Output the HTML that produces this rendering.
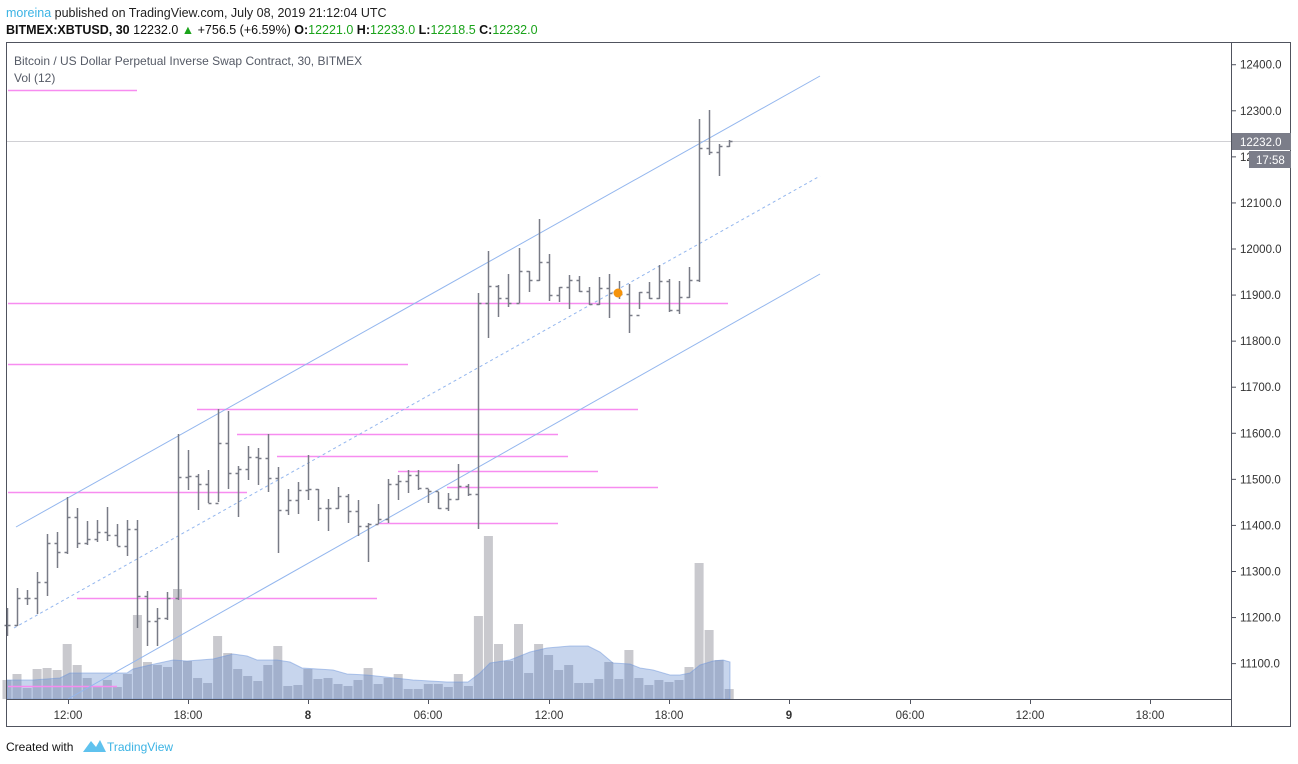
<!DOCTYPE html>
<html><head><meta charset="utf-8"><style>
html,body{margin:0;padding:0;background:#fff;width:1298px;height:764px;overflow:hidden}
svg{display:block}
text{font-family:"Liberation Sans",sans-serif}
</style></head><body>
<svg id="s" width="1298" height="764" xmlns="http://www.w3.org/2000/svg">
<rect x="0" y="0" width="1298" height="764" fill="#fff"/>
<text x="6" y="17" font-size="12.5"><tspan fill="#3bb3e4">moreina</tspan><tspan fill="#222"> published on TradingView.com, July 08, 2019 21:12:04 UTC</tspan></text>
<text x="6" y="34" font-size="12.5" fill="#111"><tspan font-weight="bold">BITMEX:XBTUSD, 30</tspan> 12232.0 <tspan fill="#1aa31a">▲</tspan> +756.5 (+6.59%) <tspan font-weight="bold">O:</tspan><tspan fill="#1aa31a">12221.0</tspan> <tspan font-weight="bold">H:</tspan><tspan fill="#1aa31a">12233.0</tspan> <tspan font-weight="bold">L:</tspan><tspan fill="#1aa31a">12218.5</tspan> <tspan font-weight="bold">C:</tspan><tspan fill="#1aa31a">12232.0</tspan></text>
<g id="plot"></g>
<text x="14" y="65" font-size="12" fill="#555a66">Bitcoin / US Dollar Perpetual Inverse Swap Contract, 30, BITMEX</text>
<text x="14" y="82" font-size="12" fill="#555a66">Vol (12)</text>
<rect x="6.5" y="42.5" width="1284" height="684" fill="none" stroke="#50535e" stroke-width="1"/>
<line x1="1231.5" y1="42" x2="1231.5" y2="727" stroke="#50535e"/>
<line x1="6" y1="699.5" x2="1231" y2="699.5" stroke="#50535e"/>
<g id="yax" font-size="11.5" fill="#333"></g>
<g id="xax" font-size="11.5" fill="#333"></g>
<rect x="1232" y="133" width="59" height="17" fill="#7b7d89"/>
<text x="1240" y="146" font-size="11.5" fill="#fff">12232.0</text>
<text x="1240" y="161" font-size="11.5" fill="#333">12</text>
<rect x="1249" y="151" width="42" height="17" fill="#7b7d89"/>
<text x="1256" y="164" font-size="11.5" fill="#fff">17:58</text>
<text x="6" y="751" font-size="12" fill="#111">Created with</text>
<path d="M83 752 L91 741 L96 747 L100 740 L106 752 Z" fill="#5fc2ee"/>
<text x="107" y="751" font-size="12" fill="#3bb3e4">TradingView</text>
</svg>
<script>
var NS="http://www.w3.org/2000/svg",P=document.getElementById('plot');
function el(t,a,par){var e=document.createElementNS(NS,t);for(var k in a)e.setAttribute(k,a[k]);(par||P).appendChild(e);return e;}
// volume
var vol=[680,674,688,669,668,670,644,665,678,686,680,687,674,615,662,665,667,589,661,678,683,636,653,669,676,681,665,646,686,685,669,679,678,684,686,680,668,684,678,674,689,689,684,684,687,674,686,616,536,644,661,624,673,644,655,670,665,683,683,679,662,679,650,678,685,680,682,680,667,563,630,660,689];
function X(i){return 7+10.03*i;}
vol.forEach(function(v,i){el('rect',{x:(X(i)-4.5).toFixed(1),y:v,width:9,height:699-v,fill:'#c9c9ce'});});
var ma=[[7,680],[33,680],[60,678],[70,673],[127,673],[133,669],[150,665],[173,660],[187,661],[213,659],[233,654],[247,656],[257,660],[277,660],[290,662],[302,668],[333,670],[347,674],[367,675],[413,680],[447,682],[468,682],[480,673],[490,663],[510,660],[530,652],[547,648],[570,646],[588,646],[600,652],[613,663],[630,664],[640,668],[653,670],[670,675],[680,675],[690,673],[700,665],[713,661],[723,660],[730,662]];
var d='M7 699 '+ma.map(function(p){return 'L'+p[0]+' '+p[1];}).join(' ')+' L730 699 Z';
el('path',{d:d,fill:'rgba(80,125,200,0.32)',stroke:'rgba(110,150,220,0.5)','stroke-width':1});
// grid line current price
el('line',{x1:6,y1:141.5,x2:1231,y2:141.5,stroke:'#d0d0d4'});
// pink lines
[[90,8,137],[303,8,728],[364,8,408],[409,197,638],[434,237,558],[456,277,568],[471,398,598],[487,447,658],[492,8,247],[523,378,558],[598,77,377],[686,8,117]].forEach(function(l){el('line',{x1:l[1],y1:l[0]+0.5,x2:l[2],y2:l[0]+0.5,stroke:'#f78cf0','stroke-width':1.6});});
// channel
el('line',{x1:16,y1:527,x2:820,y2:76,stroke:'#93b6ee','stroke-width':1});
el('line',{x1:14,y1:628,x2:820,y2:176,stroke:'#93b6ee','stroke-width':1,'stroke-dasharray':'3,3'});
el('line',{x1:68,y1:699,x2:820,y2:274,stroke:'#93b6ee','stroke-width':1});
// bars [high,low,close]
var B=[[608,636,625],[588,626,598],[590,605,598],[572,614,582],[534,596,543],[532,568,552],[497,554,517],[508,548,543],[521,545,539],[520,542,532],[507,541,535],[524,546,546],[520,556,529],[520,628,596],[591,646,621],[608,646,618],[592,620,598],[434,600,477],[450,490,476],[474,510,484],[470,503,503],[409,502,443],[411,489,473],[466,517,469],[446,480,457],[448,485,458],[434,492,478],[467,553,510],[489,515,500],[482,514,490],[455,500,489],[489,521,508],[499,531,508],[487,509,496],[494,523,511],[500,536,526],[523,562,524],[504,524,519],[479,523,484],[475,500,481],[470,493,475],[470,490,488],[489,503,491],[492,509,508],[493,511,499],[464,500,486],[484,496,494],[293,529,303],[251,338,286],[285,317,298],[274,307,303],[248,303,271],[271,292,280],[219,281,262],[254,301,295],[287,302,287],[275,309,280],[276,292,291],[287,305,304],[277,305,288],[274,318,293],[281,299,294],[284,333,315],[292,309,292],[282,299,298],[265,299,281],[279,312,310],[281,314,297],[267,298,280],[119,282,148],[110,155,152],[144,176,146],[140,147,141]];
var prev=B[0][2];
B.forEach(function(b,i){var x=Math.round(X(i))+0.5;
el('line',{x1:x,y1:b[0],x2:x,y2:b[1],stroke:'#787b86','stroke-width':1.5});
el('line',{x1:x-3,y1:prev+0.5,x2:x,y2:prev+0.5,stroke:'#787b86','stroke-width':1.5});
el('line',{x1:x,y1:b[2]+0.5,x2:x+3,y2:b[2]+0.5,stroke:'#787b86','stroke-width':1.5});
prev=b[2];});
el('circle',{cx:618,cy:293,r:4.5,fill:'#f5930b'});
// y axis
var Y=document.getElementById('yax');
for(var p=11100;p<=12400;p+=100){var y=249-(p-12000)*0.4607;
el('line',{x1:1231,y1:y,x2:1236,y2:y,stroke:'#50535e'},Y);
if(p!==12200){var t=el('text',{x:1240,y:y+4},Y);t.textContent=p.toFixed(1);}}
// x axis
var XA=document.getElementById('xax');
[[68,'12:00'],[188,'18:00'],[308,'8'],[428,'06:00'],[549,'12:00'],[669,'18:00'],[789,'9'],[910,'06:00'],[1030,'12:00'],[1150,'18:00']].forEach(function(a){
el('line',{x1:a[0]+0.5,y1:700,x2:a[0]+0.5,y2:704,stroke:'#50535e'},XA);
var t=el('text',{x:a[0],y:719,'text-anchor':'middle','font-weight':a[1].length==1?'bold':'normal'},XA);t.textContent=a[1];});
</script>
</body></html>
